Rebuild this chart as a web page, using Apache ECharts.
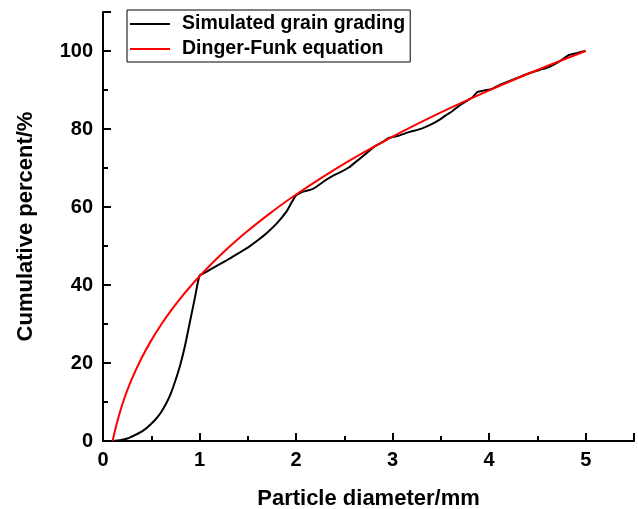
<!DOCTYPE html>
<html><head><meta charset="utf-8">
<script src="https://cdn.jsdelivr.net/npm/echarts@6/dist/echarts.min.js"></script>
<style>html,body{margin:0;padding:0;background:#fff}#c{width:638px;height:509px}</style>
</head><body><div id="c"></div>
<script>
const seriesNames = ["Simulated grain grading", "Dinger-Funk equation"];
const xTicks = [0, 1, 2, 3, 4, 5];
const yTicks = [0, 20, 40, 60, 80, 100];
const simulated = [[0.09,0],[0.15,0.1],[0.2,0.3],[0.26,0.7],[0.33,1.5],[0.4,2.4],[0.45,3.3],[0.5,4.4],[0.55,5.7],[0.6,7.3],[0.65,9.4],[0.7,12],[0.75,15.5],[0.8,19.5],[0.85,24.5],[0.9,30.5],[0.95,36.5],[1.0,42.4],[1.05,43.1],[1.1,43.8],[1.2,45.2],[1.3,46.6],[1.4,48.1],[1.5,49.6],[1.6,51.4],[1.7,53.4],[1.8,55.8],[1.9,58.8],[1.95,61],[2.0,63.0],[2.05,63.7],[2.1,64.1],[2.17,64.6],[2.25,65.9],[2.3,66.8],[2.38,68.0],[2.45,68.8],[2.55,70.2],[2.62,71.6],[2.72,73.6],[2.78,74.9],[2.83,75.8],[2.9,76.7],[2.96,77.7],[3.05,78.2],[3.17,79.2],[3.3,80.1],[3.41,81.3],[3.5,82.6],[3.55,83.5],[3.62,84.6],[3.69,86.0],[3.76,87.1],[3.83,88.2],[3.88,89.5],[3.95,89.9],[4.03,90.3],[4.1,91.2],[4.18,92.0],[4.27,92.9],[4.36,93.8],[4.45,94.6],[4.53,95.2],[4.62,95.9],[4.72,97.2],[4.82,98.9],[4.9,99.4],[4.96,99.8],[5.0,100]];
const dingerX = [0.1,0.12,0.15,0.2,0.25,0.3,0.4,0.5,0.6,0.7,0.8,0.9,1.0,1.25,1.5,1.75,2.0,2.5,3.0,3.5,4.0,4.5,5.0];
const dingerY = [0,2.25,5.2,9.36,12.9,15.99,21.29,25.8,29.74,33.28,36.51,39.48,42.24,48.44,53.89,58.76,63.21,71.11,78.04,84.26,89.92,95.14,100];

const FONT = "Liberation Sans, Arial, sans-serif";
const chart = echarts.init(document.getElementById('c'), null, {renderer: 'canvas'});
const axisCommon = {
  axisLine: {show: true, onZero: false, lineStyle: {color: '#000', width: 2}},
  axisTick: {show: true, inside: true, length: 8, lineStyle: {color: '#000', width: 2}},
  minorTick: {show: true, splitNumber: 2, length: 5, lineStyle: {color: '#000', width: 2}},
  splitLine: {show: false},
  axisLabel: {color: '#000', fontFamily: FONT, fontWeight: 'bold', fontSize: 20},
  nameTextStyle: {color: '#000', fontFamily: FONT, fontWeight: 'bold', fontSize: 22}
};
chart.setOption({
  animation: false,
  backgroundColor: '#fff',
  grid: {left: 103, right: 4, top: 12, bottom: 68, containLabel: false, outerBoundsMode: 'none'},
  legend: {
    orient: 'vertical', left: 127, top: 10,
    backgroundColor: '#fff',
    borderColor: '#000', borderWidth: 1, borderRadius: 0,
    padding: [4, 5, 3, 3], itemGap: 5, itemWidth: 40, itemHeight: 14,
    icon: 'path://M0,6 L40,6 L40,8 L0,8 Z',
    textStyle: {color: '#000', fontFamily: FONT, fontWeight: 'bold', fontSize: 19.5, padding: [0, 0, 0, 7]},
    data: seriesNames
  },
  xAxis: Object.assign({}, axisCommon, {
    type: 'value', min: 0, max: 5.5, interval: 1,
    name: 'Particle diameter/mm', nameLocation: 'middle', nameGap: 47,
    axisLabel: Object.assign({}, axisCommon.axisLabel, {margin: 9,
      formatter: v => (xTicks.includes(v) ? String(v) : '')})
  }),
  yAxis: Object.assign({}, axisCommon, {
    type: 'value', min: 0, max: 110, interval: 20,
    name: 'Cumulative percent/%', nameLocation: 'middle', nameGap: 66,
    axisLabel: Object.assign({}, axisCommon.axisLabel, {margin: 10,
      formatter: v => (yTicks.includes(v) ? String(v) : '')})
  }),
  series: [
    {name: seriesNames[0], type: 'line', data: simulated, showSymbol: false, smooth: 0.2,
     lineStyle: {color: '#000', width: 2}, itemStyle: {color: '#000'}, z: 2},
    {name: seriesNames[1], type: 'line', data: dingerX.map((x, i) => [x, dingerY[i]]), showSymbol: false, smooth: 0.4,
     lineStyle: {color: '#ff0000', width: 2}, itemStyle: {color: '#ff0000'}, z: 3}
  ]
});
</script></body></html>
